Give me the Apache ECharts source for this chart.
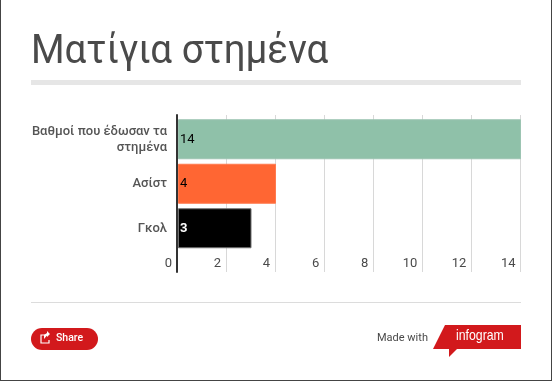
<!DOCTYPE html>
<html>
<head>
<meta charset="utf-8">
<style>
  html, body { margin: 0; padding: 0; background: #fff; }
  #chart { width: 552px; height: 381px; }
</style>
<script src="https://cdn.jsdelivr.net/npm/echarts@6/dist/echarts.min.js"></script>
</head>
<body>
<div id="chart"></div>
<script>
  const TITLE = 'Ματίγια στημένα'
  const categories = ['Βαθμοί που έδωσαν τα\nστημένα', 'Ασίστ', 'Γκολ']
  const values = [14, 4, 3]
  const barColors = ['#8fc1a9', '#ff6633', '#000000']
  const barBorders = ['#9cc4b2', '#ff7a4f', '#707070']
  const labelColors = ['#000000', '#000000', '#ffffff']
  const labelWeights = ['normal', 'normal', 'bold']
  const FONT = 'Roboto'
  const TEXT = '#4a4a4a'
  const RED = '#d2191c'

  let myChart = echarts.init(document.getElementById('chart'), null, { renderer: 'canvas' })

  myChart.setOption({
    animation: false,
    backgroundColor: '#fff',
    textStyle: { fontFamily: FONT },
    grid: [
      // gridlines, tick labels and the long axis line
      { left: 177, top: 115, width: 343.5, height: 157 },
      // bars
      { left: 178, top: 117, width: 343, height: 133.5 }
    ],
    xAxis: [
      {
        gridIndex: 0,
        type: 'value',
        min: 0,
        max: 14,
        interval: 2,
        axisLine: { show: false },
        axisTick: { show: false },
        splitLine: { show: true, lineStyle: { color: '#d8d8d8', width: 1 } },
        axisLabel: {
          inside: true,
          margin: 2,
          align: 'right',
          verticalAlign: 'bottom',
          padding: [0, 5, 0, 0],
          showMinLabel: true,
          showMaxLabel: true,
          hideOverlap: false,
          color: TEXT,
          fontFamily: FONT,
          fontSize: 13
        }
      },
      {
        gridIndex: 1,
        type: 'value',
        min: 0,
        max: 14,
        show: false
      }
    ],
    yAxis: [
      {
        gridIndex: 0,
        type: 'value',
        min: 0,
        max: 1,
        z: 5,
        axisLine: { show: true, onZero: false, lineStyle: { color: '#333', width: 2 } },
        axisTick: { show: false },
        axisLabel: { show: false },
        splitLine: { show: false }
      },
      {
        gridIndex: 1,
        type: 'category',
        inverse: true,
        data: categories,
        axisLine: { show: false },
        axisTick: { show: false },
        axisLabel: {
          margin: 11,
          align: 'right',
          color: '#555',
          fontFamily: FONT,
          fontWeight: 500,
          fontSize: 13,
          lineHeight: 16
        }
      }
    ],
    series: [
      {
        type: 'bar',
        xAxisIndex: 1,
        yAxisIndex: 1,
        barWidth: 40,
        data: values.map((v, i) => ({
          value: v,
          itemStyle: { color: barColors[i], borderColor: barBorders[i], borderWidth: 1 },
          label: { color: labelColors[i], fontWeight: labelWeights[i] }
        })),
        label: {
          show: true,
          position: 'insideLeft',
          distance: 2,
          fontFamily: FONT,
          fontSize: 13
        }
      }
    ],
    graphic: [
      // title, squeezed a little to the reference width
      {
        type: 'text',
        x: 31,
        y: 33,
        scaleX: 0.962,
        style: { text: TITLE, fill: TEXT, font: '40px Roboto', textVerticalAlign: 'top' }
      },
      // frame
      { type: 'rect', shape: { x: 0, y: 0, width: 1, height: 381 }, style: { fill: '#444' } },
      { type: 'rect', shape: { x: 0, y: 380, width: 552, height: 1 }, style: { fill: '#444' } },
      { type: 'rect', shape: { x: 551, y: 0, width: 1, height: 381 }, style: { fill: '#444' } },
      // rule under the title and footer rule
      { type: 'rect', shape: { x: 31, y: 80, width: 490, height: 5 }, style: { fill: '#e6e6e6' } },
      { type: 'rect', shape: { x: 31, y: 302, width: 490, height: 1 }, style: { fill: '#dcdcdc' } },
      // share button
      { type: 'rect', shape: { x: 31, y: 328, width: 67, height: 22, r: 11 }, style: { fill: RED } },
      {
        type: 'polyline',
        shape: { points: [[47, 335], [41, 335], [41, 343], [49, 343], [49, 340]] },
        style: { stroke: '#fff', lineWidth: 1.2, fill: null }
      },
      {
        type: 'polygon',
        shape: { points: [[47, 331], [50, 334], [47, 337], [47, 335.5], [44, 339], [44, 335], [47, 333]] },
        style: { fill: '#fff' }
      },
      {
        type: 'text',
        x: 56,
        y: 338,
        style: { text: 'Share', fill: '#fff', font: '500 10.5px Roboto', textVerticalAlign: 'middle' }
      },
      // made with infogram
      {
        type: 'text',
        x: 377,
        y: 338,
        style: { text: 'Made with', fill: TEXT, font: '11px Roboto', textVerticalAlign: 'middle' }
      },
      {
        type: 'polygon',
        shape: { points: [[445, 325], [521, 325], [521, 349], [457, 349], [449, 357], [449, 349], [433, 349]] },
        style: { fill: RED }
      },
      {
        type: 'text',
        x: 456,
        y: 336,
        scaleX: 0.82,
        style: { text: 'infogram', fill: '#fff', font: '15px "Liberation Sans"', textVerticalAlign: 'middle' }
      }
    ]
  })
</script>
</body>
</html>
